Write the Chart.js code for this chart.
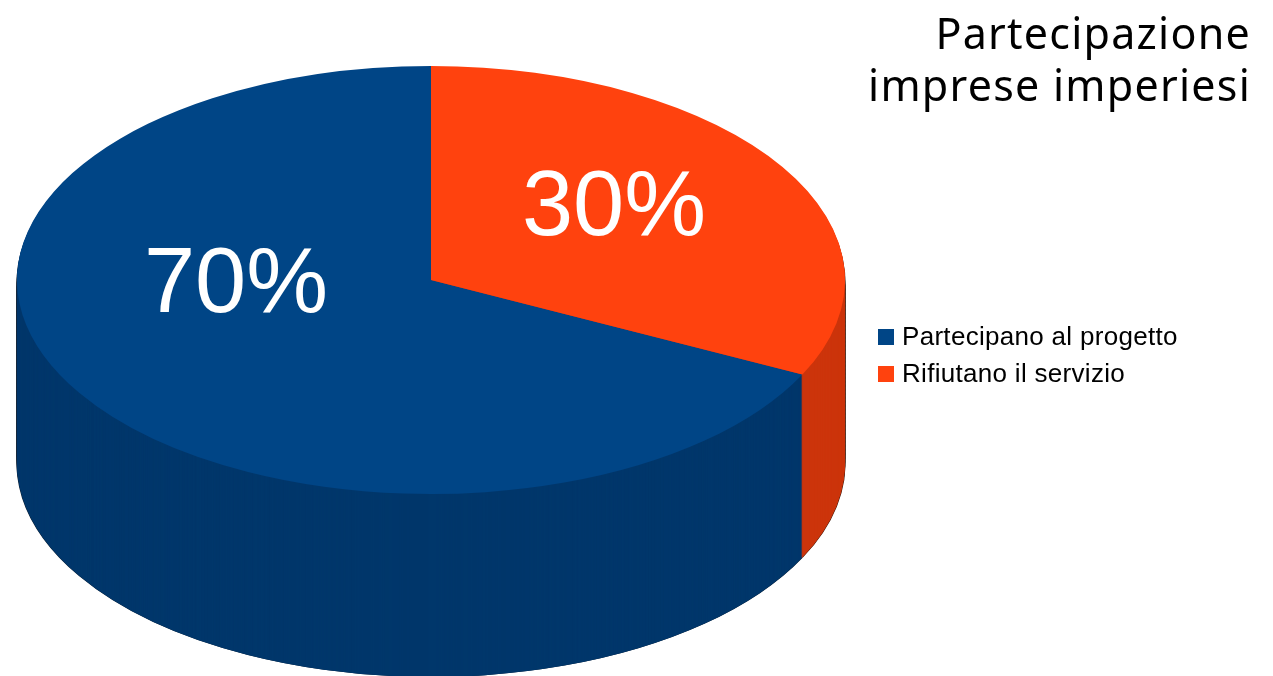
<!DOCTYPE html>
<html lang="it">
    <head>
        <meta charset="utf-8" />
        <title>Partecipazione imprese imperiesi</title>
        <style>
            html,
            body {
                margin: 0;
                background: #fff;
            }
            #page {
                position: relative;
                width: 1273px;
                height: 676px;
                overflow: hidden;
            }
            #pie {
                position: absolute;
                left: 0;
                top: 0;
            }
            #title {
                position: absolute;
                right: 22px;
                top: 7px;
                text-align: right;
                font: 43px/52px "Noto Sans", sans-serif;
                letter-spacing: 1.25px;
                color: #000;
            }
            #legend {
                position: absolute;
                left: 878px;
                top: 318px;
                font: 26px/37px "Liberation Sans", sans-serif;
                letter-spacing: 0.3px;
                color: #000;
            }
            #legend div {
                display: flex;
                align-items: center;
            }
            #legend i {
                width: 16px;
                height: 16px;
                margin-right: 8px;
            }
        </style>
    </head>
    <body>
        <div id="page">
            <canvas id="pie" width="1273" height="676"></canvas>
            <div id="title"></div>
            <div id="legend"></div>
        </div>

        <script src="https://cdn.jsdelivr.net/npm/chart.js@4/dist/chart.umd.min.js"></script>
        <script>
            const titleLines = ["Partecipazione", "imprese imperiesi"];
            const categories = ["Partecipano al progetto", "Rifiutano il servizio"];
            const percentages = [70, 30];

            const sliceColors = ["#004586", "#ff420e"];
            const sideColors = ["#00376b", "#cc340b"];
            const rimColors = ["#0a1c30", "#3d1507"];

            // Tilted disc: centre and radii on the page, wall height below it
            const disc = { x: 431, y: 280, rx: 414, ry: 214, depth: 183 };
            const foreshorten = (14 * Math.PI) / 180;
            // Percent labels, relative to the disc centre
            const labelOffsets = [
                [-195, 7],
                [183, -70],
            ];

            // Perspective pushes slice edges towards the front of the disc
            function projectAngle(angle) {
                const fromTop = angle + Math.PI / 2;
                return angle - foreshorten * Math.sin(2 * fromTop);
            }

            function tilt(ctx, arc, dy, grow) {
                const r = arc.outerRadius;
                ctx.translate(disc.x, disc.y + dy);
                ctx.scale((disc.rx + grow) / r, disc.ry / r);
                ctx.translate(-arc.x, -arc.y);
            }

            function drawLayer(ctx, arcs, colors, dy, grow) {
                arcs.forEach((arc, i) => {
                    const options = arc.options;
                    arc.options = { ...options, backgroundColor: colors[i] };
                    ctx.save();
                    tilt(ctx, arc, dy, grow);
                    arc.draw(ctx);
                    ctx.restore();
                    arc.options = options;
                });
            }

            const pie3d = {
                id: "pie3d",
                afterDatasetsUpdate(chart) {
                    chart.getDatasetMeta(0).data.forEach((arc) => {
                        arc.startAngle = projectAngle(arc.startAngle);
                        arc.endAngle = projectAngle(arc.endAngle);
                    });
                },
                beforeDatasetsDraw(chart) {
                    const ctx = chart.ctx;
                    const arcs = chart.getDatasetMeta(0).data;
                    for (let dy = disc.depth; dy >= 0; dy -= 4) {
                        drawLayer(ctx, arcs, rimColors, dy, 0.6);
                    }
                    for (let dy = disc.depth; dy >= 1; dy--) {
                        drawLayer(ctx, arcs, sideColors, dy, 0);
                    }
                    ctx.save();
                    tilt(ctx, arcs[0], 0, 0);
                },
                afterDatasetsDraw(chart) {
                    const ctx = chart.ctx;
                    ctx.restore();
                    ctx.save();
                    ctx.fillStyle = "#fff";
                    ctx.font = '92px "Liberation Sans", sans-serif';
                    ctx.textAlign = "center";
                    ctx.textBaseline = "middle";
                    percentages.forEach((value, i) => {
                        ctx.fillText(
                            value + "%",
                            disc.x + labelOffsets[i][0],
                            disc.y + labelOffsets[i][1]
                        );
                    });
                    ctx.restore();
                },
            };

            document.getElementById("title").innerHTML = titleLines
                .map((line) => `<div>${line}</div>`)
                .join("");
            document.getElementById("legend").innerHTML = categories
                .map(
                    (name, i) =>
                        `<div><i style="background:${sliceColors[i]}"></i>${name}</div>`
                )
                .join("");

            new Chart(document.getElementById("pie"), {
                type: "pie",
                data: {
                    labels: categories,
                    datasets: [
                        {
                            data: percentages,
                            backgroundColor: sliceColors,
                            borderWidth: 0,
                            hoverOffset: 0,
                            clip: false,
                        },
                    ],
                },
                options: {
                    responsive: false,
                    animation: false,
                    rotation: 108,
                    plugins: {
                        legend: { display: false },
                        tooltip: { enabled: false },
                    },
                },
                plugins: [pie3d],
            });
        </script>
    </body>
</html>
